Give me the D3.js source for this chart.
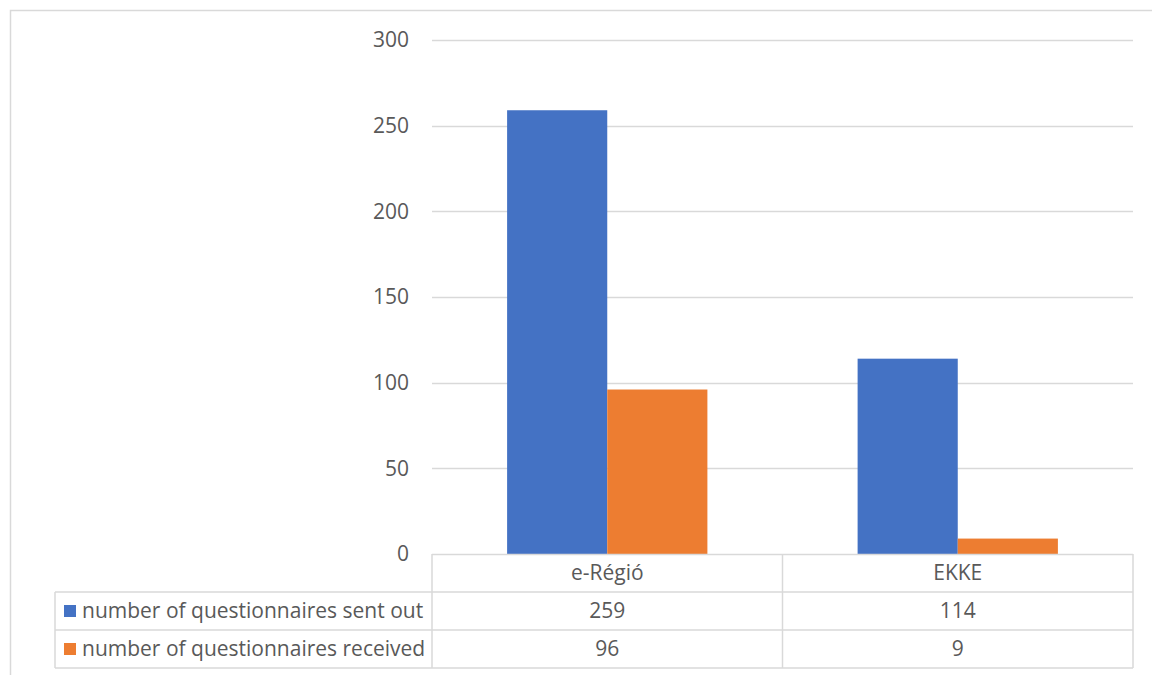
<!DOCTYPE html>
<html>
<head>
<meta charset="utf-8">
<script src="https://cdn.jsdelivr.net/npm/d3@7"></script>
<style>
  body { margin: 0; background: white; }
  text { font-family: "Open Sans", Lato, sans-serif; fill: #595959; }
</style>
</head>
<body>
<div id="chart"></div>
<script>
const categories = ["e-Régió", "EKKE"];
const seriesNames = ["number of questionnaires sent out", "number of questionnaires received"];
const sentOut = [259, 114];
const received = [96, 9];
const yTicks = [0, 50, 100, 150, 200, 250, 300];
const colors = ["#4472C4", "#ED7D31"];

const seriesValues = [sentOut, received];
const width = 1152, height = 675;
const grid = "#D9D9D9";
const fontSize = 21;

const svg = d3.select("#chart").append("svg")
    .attr("width", width)
    .attr("height", height);

// chart area border
svg.append("rect")
    .attr("x", 10.5).attr("y", 10.5)
    .attr("width", 1150).attr("height", 680)
    .style("fill", "none")
    .style("stroke", grid)
    .style("stroke-width", 1.5);

const plot = {left: 432, right: 1133, top: 40, bottom: 554};

const y = d3.scaleLinear().domain([0, 300]).range([plot.bottom, plot.top]);
const x0 = d3.scaleBand().domain(categories).range([plot.left, plot.right]);
const bw = x0.bandwidth();
const x1 = d3.scaleBand().domain(seriesNames)
    .range([bw*0.75/3.5, bw*2.75/3.5]);

// gridlines
svg.append("g").selectAll("line").data(yTicks.filter(d => d > 0)).join("line")
    .attr("x1", plot.left).attr("x2", plot.right)
    .attr("y1", d => Math.round(y(d)) + 0.5)
    .attr("y2", d => Math.round(y(d)) + 0.5)
    .style("stroke", grid)
    .style("stroke-width", 1.5);

// y tick labels
svg.append("g").selectAll("text").data(yTicks).join("text")
    .attr("x", 409)
    .attr("y", d => y(d))
    .attr("dy", "0.35em")
    .attr("text-anchor", "end")
    .style("font-size", fontSize + "px")
    .text(d => d);

// bars
const groups = svg.append("g").selectAll("g").data(categories).join("g")
    .attr("transform", d => `translate(${x0(d)},0)`);
groups.selectAll("rect")
    .data((c, ci) => seriesNames.map((s, si) => ({s: s, si: si, v: seriesValues[si][ci]})))
    .join("rect")
    .attr("x", d => x1(d.s))
    .attr("width", x1.bandwidth())
    .attr("y", d => y(d.v))
    .attr("height", d => y(0) - y(d.v))
    .style("fill", d => colors[d.si]);

// data table
const rowTop = [plot.bottom, 592, 630, 668];
const tableLeft = 55;
const table = svg.append("g")
    .style("stroke", grid)
    .style("stroke-width", 1.5)
    .style("fill", "none");

// horizontal lines
table.append("line")
    .attr("x1", plot.left).attr("x2", plot.right)
    .attr("y1", rowTop[0] + 0.5).attr("y2", rowTop[0] + 0.5);
for (let i = 1; i < rowTop.length; i++) {
    table.append("line")
        .attr("x1", tableLeft).attr("x2", plot.right)
        .attr("y1", rowTop[i]).attr("y2", rowTop[i]);
}
// vertical lines
table.append("line")
    .attr("x1", tableLeft).attr("x2", tableLeft)
    .attr("y1", rowTop[1]).attr("y2", rowTop[3]);
const colEdges = [plot.left].concat(categories.map(c => x0(c) + bw));
colEdges.forEach(xv => {
    table.append("line")
        .attr("x1", xv).attr("x2", xv)
        .attr("y1", rowTop[0]).attr("y2", rowTop[3]);
});

// header row
svg.append("g").selectAll("text").data(categories).join("text")
    .attr("x", d => x0(d) + bw/2)
    .attr("y", (rowTop[0] + rowTop[1])/2)
    .attr("dy", "0.35em")
    .attr("text-anchor", "middle")
    .style("font-size", fontSize + "px")
    .text(d => d);

// series rows
seriesNames.forEach((s, si) => {
    const cy = (rowTop[si+1] + rowTop[si+2])/2;
    svg.append("rect")
        .attr("x", 64).attr("y", cy - 6)
        .attr("width", 12).attr("height", 12)
        .style("fill", colors[si]);
    svg.append("text")
        .attr("x", 82).attr("y", cy)
        .attr("dy", "0.35em")
        .style("font-size", fontSize + "px")
        .text(s);
    svg.append("g").selectAll("text").data(categories).join("text")
        .attr("x", d => x0(d) + bw/2)
        .attr("y", cy)
        .attr("dy", "0.35em")
        .attr("text-anchor", "middle")
        .style("font-size", fontSize + "px")
        .text((d, ci) => seriesValues[si][ci]);
});
</script>
</body>
</html>
